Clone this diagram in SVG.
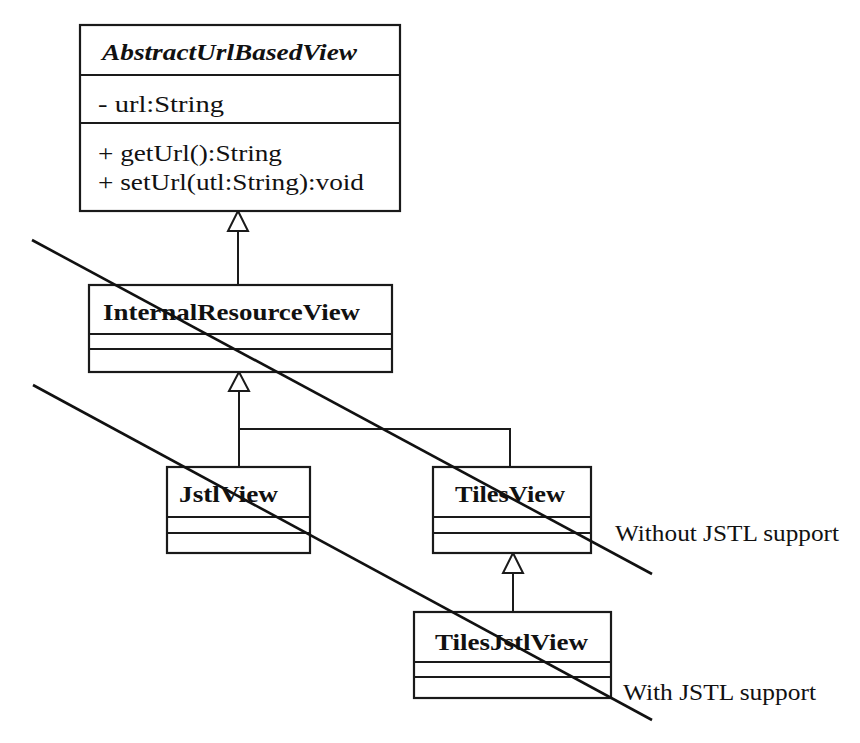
<svg xmlns="http://www.w3.org/2000/svg" width="860" height="743" viewBox="0 0 860 743">
<style>
.box{fill:#fff;stroke:#1a1a1a;stroke-width:2.2}
.sep{stroke:#1a1a1a;stroke-width:2}
.ln{stroke:#1a1a1a;stroke-width:2;fill:none}
.tri{fill:#fff;stroke:#1a1a1a;stroke-width:2}
.t{font-family:"Liberation Serif","Times New Roman",serif;font-size:24px;fill:#111}
.b{font-weight:bold}
.i{font-style:italic}
.diag{stroke:#111;stroke-width:2.6;fill:none}
</style>
<rect width="860" height="743" fill="#fff"/>
<g id="connectors">
<line class="ln" x1="238" y1="231" x2="238" y2="285"/>
<polygon class="tri" points="238,211 248,231 228,231"/>
<polyline class="ln" points="239,391 239,467"/>
<polyline class="ln" points="239,429 510,429 510,467"/>
<polygon class="tri" points="239,372 249,391 229,391"/>
<line class="ln" x1="513" y1="573" x2="513" y2="612"/>
<polygon class="tri" points="513,553 523,573 503,573"/>
</g>
<g id="AbstractUrlBasedView">
<rect class="box" x="80" y="25" width="320" height="186"/>
<line class="sep" x1="80" y1="75" x2="400" y2="75"/>
<line class="sep" x1="80" y1="123" x2="400" y2="123"/>
<text class="t b i" x="102" y="60" textLength="255" lengthAdjust="spacingAndGlyphs">AbstractUrlBasedView</text>
<text class="t" x="98" y="112" textLength="126" lengthAdjust="spacingAndGlyphs">- url:String</text>
<text class="t" x="98" y="161" textLength="184" lengthAdjust="spacingAndGlyphs">+ getUrl():String</text>
<text class="t" x="98" y="190" textLength="266" lengthAdjust="spacingAndGlyphs">+ setUrl(utl:String):void</text>
</g>
<g id="InternalResourceView">
<rect class="box" x="89" y="285" width="303" height="87"/>
<line class="sep" x1="89" y1="334" x2="392" y2="334"/>
<line class="sep" x1="89" y1="349" x2="392" y2="349"/>
<text class="t b" x="103" y="320" textLength="257" lengthAdjust="spacingAndGlyphs">InternalResourceView</text>
</g>
<g id="JstlView">
<rect class="box" x="167" y="467" width="143" height="86"/>
<line class="sep" x1="167" y1="517" x2="310" y2="517"/>
<line class="sep" x1="167" y1="533" x2="310" y2="533"/>
<text class="t b" x="179" y="502" textLength="99" lengthAdjust="spacingAndGlyphs">JstlView</text>
</g>
<g id="TilesView">
<rect class="box" x="433" y="467" width="158" height="86"/>
<line class="sep" x1="433" y1="517" x2="591" y2="517"/>
<line class="sep" x1="433" y1="533" x2="591" y2="533"/>
<text class="t b" x="455" y="502" textLength="110" lengthAdjust="spacingAndGlyphs">TilesView</text>
</g>
<g id="TilesJstlView">
<rect class="box" x="414" y="612" width="197" height="86"/>
<line class="sep" x1="414" y1="662" x2="611" y2="662"/>
<line class="sep" x1="414" y1="677" x2="611" y2="677"/>
<text class="t b" x="435" y="650" textLength="153" lengthAdjust="spacingAndGlyphs">TilesJstlView</text>
</g>
<g id="boundaries">
<line class="diag" x1="32" y1="240" x2="652" y2="574"/>
<line class="diag" x1="33" y1="385" x2="652" y2="720"/>
<text class="t" x="615" y="541" textLength="224" lengthAdjust="spacingAndGlyphs">Without JSTL support</text>
<text class="t" x="623" y="700" textLength="193" lengthAdjust="spacingAndGlyphs">With JSTL support</text>
</g>
</svg>
